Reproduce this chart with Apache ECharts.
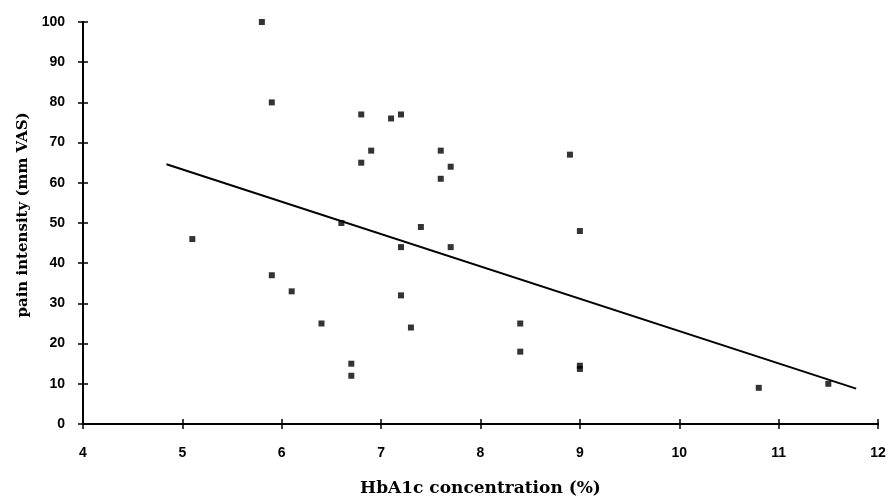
<!DOCTYPE html>
<html>
<head>
<meta charset="utf-8">
<script src="https://cdn.jsdelivr.net/npm/echarts@6/dist/echarts.min.js"></script>
<style>
  html, body { margin: 0; padding: 0; background: #fff; }
  #myChart { width: 890px; height: 502px; }
</style>
</head>
<body>
<div id="myChart"></div>
<script>
// HbA1c (%) vs pain intensity (mm VAS)
var hba1c = [5.8, 5.9, 5.1, 5.9, 6.1, 6.4, 6.6, 6.7, 6.7, 6.8, 6.8, 6.9, 7.1, 7.2, 7.2, 7.2, 7.3, 7.4, 7.6, 7.6, 7.7, 7.7, 8.4, 8.4, 8.9, 9.0, 9.0, 9.0, 10.8, 11.5];
var pain  = [100, 80, 46, 37, 33, 25, 50, 15, 12, 77, 65, 68, 76, 77, 44, 32, 24, 49, 68, 61, 64, 44, 25, 18, 67, 48, 14.5, 13.7, 9, 10];
// regression line end points
var fitX = [4.84, 11.78];
var fitY = [64.6, 8.8];

var points = hba1c.map(function(x, i){ return [x, pain[i]]; });
var fitLine = fitX.map(function(x, i){ return [x, fitY[i]]; });

var tickFont = { color: '#000', fontFamily: 'Liberation Sans', fontWeight: 'bold', fontSize: 14 };
var axisLine = { show: true, lineStyle: { color: '#000', width: 2 } };

var option = {
  animation: false,
  backgroundColor: '#fff',
  grid: { left: 83, right: 12, top: 22, bottom: 76 },
  xAxis: [
    {
      type: 'value', min: 4, max: 12, interval: 1,
      name: 'HbA1c concentration (%)', nameLocation: 'middle', nameGap: 56,
      nameTextStyle: { color: '#000', fontFamily: 'DejaVu Serif', fontWeight: 'bold', fontSize: 17 },
      axisLine: axisLine,
      axisTick: { show: true, length: 5, lineStyle: { color: '#000', width: 1.5 } },
      axisLabel: Object.assign({ margin: 22 }, tickFont),
      splitLine: { show: false }
    },
    {
      type: 'value', min: 4, max: 12, interval: 1, position: 'bottom',
      axisLine: axisLine,
      axisTick: { show: true, inside: true, length: 5, lineStyle: { color: '#000', width: 1.5 } },
      axisLabel: { show: false },
      splitLine: { show: false }
    }
  ],
  yAxis: [
    {
      type: 'value', min: 0, max: 100, interval: 10,
      name: 'pain intensity (mm VAS)', nameLocation: 'middle', nameGap: 50,
      nameTextStyle: { color: '#000', fontFamily: 'DejaVu Serif', fontWeight: 'bold', fontSize: 15, padding: [0, 0, 0, 16] },
      axisLine: axisLine,
      axisTick: { show: true, length: 5, lineStyle: { color: '#000', width: 1.5 } },
      axisLabel: Object.assign({ margin: 18 }, tickFont),
      splitLine: { show: false }
    },
    {
      type: 'value', min: 0, max: 100, interval: 10, position: 'left',
      axisLine: axisLine,
      axisTick: { show: true, inside: true, length: 5, lineStyle: { color: '#000', width: 1.5 } },
      axisLabel: { show: false },
      splitLine: { show: false }
    }
  ],
  series: [
    {
      name: 'patients',
      type: 'scatter',
      symbol: 'rect',
      symbolSize: 6,
      itemStyle: { color: '#000' },
      data: points
    },
    {
      name: 'regression',
      type: 'line',
      symbol: 'none',
      lineStyle: { color: '#000', width: 2 },
      data: fitLine
    }
  ]
};

var myChart = echarts.init(document.getElementById('myChart'));
myChart.setOption(option);
</script>
</body>
</html>
